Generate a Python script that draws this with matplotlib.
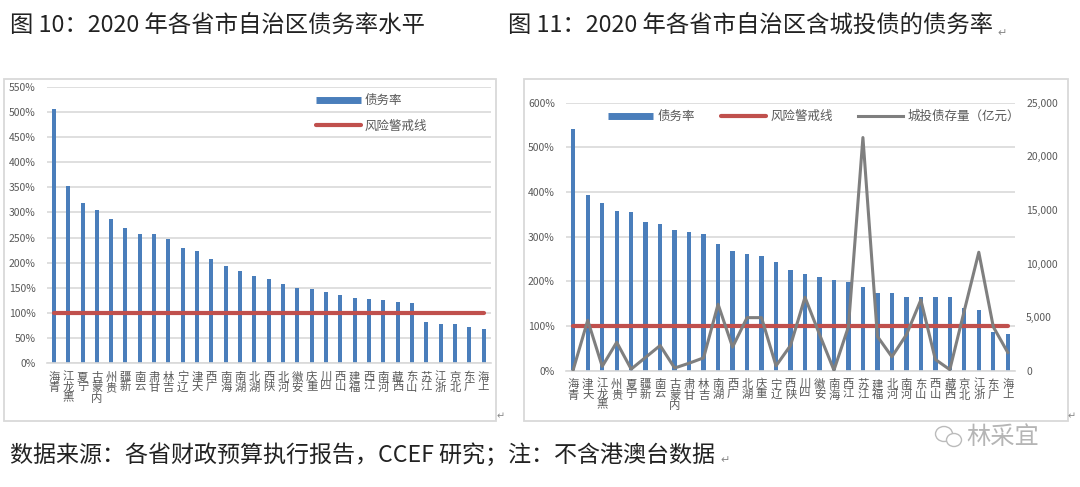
import matplotlib
matplotlib.use("Agg")
import matplotlib.pyplot as plt
from matplotlib.lines import Line2D
from matplotlib.patches import Rectangle, Ellipse
from matplotlib.ticker import FuncFormatter, MultipleLocator

plt.rcParams['font.family'] = ['Noto Sans CJK SC', 'DejaVu Sans']

# ---- data ----
left_provinces = ['青海', '黑龙江', '宁夏', '内蒙古', '贵州', '新疆', '云南', '甘肃', '吉林', '辽宁',
                  '天津', '广西', '海南', '湖南', '湖北', '陕西', '河北', '安徽', '重庆', '四川',
                  '山西', '福建', '江西', '河南', '西藏', '山东', '江苏', '浙江', '北京', '广东', '上海']
left_rates = [506, 353, 319, 304, 286, 270, 258, 257, 247, 229, 223, 207, 194, 184, 174, 168,
              158, 150, 148, 141, 135, 129, 127, 125, 121, 119, 83, 78, 78, 72, 68]

right_provinces = ['青海', '天津', '黑龙江', '贵州', '宁夏', '新疆', '云南', '内蒙古', '甘肃', '吉林',
                   '湖南', '广西', '湖北', '重庆', '辽宁', '陕西', '四川', '安徽', '海南', '江西',
                   '江苏', '福建', '河北', '河南', '山东', '山西', '西藏', '北京', '浙江', '广东', '上海']
right_rates = [540, 394, 376, 357, 355, 332, 328, 314, 310, 305, 284, 268, 261, 257, 243, 226,
               217, 210, 202, 199, 188, 175, 175, 166, 166, 166, 164, 140, 136, 87, 82]
lgfv_stock = [100, 4700, 400, 2650, 150, 1250, 2350, 250, 700, 1200, 6200, 2200, 4950, 4950, 450,
              2350, 6850, 3400, 50, 4100, 21750, 3200, 1300, 3350, 6600, 1050, 100, 5600, 11050, 4100, 1700]

risk_level = 100

title_left = "图 10：2020 年各省市自治区债务率水平"
title_right = "图 11：2020 年各省市自治区含城投债的债务率"
source_note = "数据来源：各省财政预算执行报告，CCEF 研究；注：不含港澳台数据"

BLUE = '#4A7EBB'
RED = '#C0504D'
GREY_LINE = '#7F7F7F'
GRID = '#D9D9D9'
TXT = '#595959'

W, H = 1080, 487
fig = plt.figure(figsize=(W / 100, H / 100), dpi=100)


def box(x0, y0, x1, y1):
    # pixel box (top-left origin) -> figure fraction [l, b, w, h]
    return [x0 / W, 1 - y1 / H, (x1 - x0) / W, (y1 - y0) / H]


def frame(x0, y0, x1, y1):
    l, b, w, h = box(x0, y0, x1, y1)
    fig.add_artist(Rectangle((l, b), w, h, transform=fig.transFigure, fill=False,
                             ec=GRID, lw=1.3))


def mark(x, y, size=8):
    # word paragraph marks seen in the screenshot
    fig.text(x / W, 1 - y / H, "↵", fontsize=size, color='#888888', va='center',
             family='DejaVu Sans')


def style_axes(ax, provinces):
    for s in ax.spines.values():
        s.set_visible(False)
    ax.spines['bottom'].set_visible(True)
    ax.spines['bottom'].set_color(GRID)
    ax.spines['bottom'].set_linewidth(1.2)
    ax.grid(axis='y', color=GRID, lw=1.2)
    ax.set_axisbelow(True)
    ax.set_xlim(-0.5, len(provinces) - 0.5)
    ax.set_xticks(range(len(provinces)))
    ax.set_xticklabels(["\n".join(reversed(p)) for p in provinces], linespacing=0.95,
                       fontsize=8.2, color=TXT)
    ax.tick_params(axis='both', length=0)
    ax.tick_params(axis='x', pad=6)
    ax.tick_params(axis='y', pad=8, labelsize=7.5, labelcolor=TXT)
    ax.yaxis.set_major_formatter(FuncFormatter(lambda v, p: f"{v:.0f}%"))


# ---- frames and titles ----
frame(4, 79, 496, 421)
frame(524, 79, 1068, 421)
fig.text(10 / W, 1 - 25 / H, title_left, fontsize=16.8, color='#222222', va='center')
fig.text(508 / W, 1 - 25 / H, title_right, fontsize=16.8, color='#222222', va='center')
mark(997, 33)
fig.text(10 / W, 1 - 455 / H, source_note, fontsize=16.6, color='#222222', va='center')
mark(720, 460)
mark(497, 416, 7)
mark(1068, 416, 7)

# watermark
fig.add_artist(Ellipse((944 / W, 1 - 434 / H), 17 / W, 15 / H, transform=fig.transFigure,
                       fill=False, ec='#BBBBBB', lw=1))
fig.add_artist(Ellipse((954 / W, 1 - 440 / H), 15 / W, 13 / H, transform=fig.transFigure,
                       fc='white', ec='#BBBBBB', lw=1))
fig.text(966 / W, 1 - 437 / H, "林采宜", fontsize=17.5, color='#B5B5B5', va='center')

# ---- left chart ----
axl = fig.add_axes(box(46.7, 86.7, 490.7, 363.3))
xl = range(len(left_provinces))
axl.bar(xl, left_rates, width=0.28, color=BLUE, zorder=2)
axl.plot(xl, [risk_level] * len(left_provinces), color=RED, lw=3, solid_capstyle='round',
         zorder=3)
axl.set_ylim(0, 550)
axl.yaxis.set_major_locator(MultipleLocator(50))
style_axes(axl, left_provinces)

hl = [Line2D([], [], color=BLUE, lw=5, solid_capstyle='butt'),
      Line2D([], [], color=RED, lw=3, solid_capstyle='round')]
axl.legend(hl, ['债务率', '风险警戒线'], loc='upper left',
           bbox_to_anchor=(316 / W, 1 - 94 / H), bbox_transform=fig.transFigure,
           frameon=False, fontsize=9, labelcolor=TXT, handlelength=3.6, handletextpad=0.3,
           labelspacing=1.0, borderpad=0, borderaxespad=0)

# ---- right chart ----
axr = fig.add_axes(box(566, 102.7, 1015, 370.7))
xr = range(len(right_provinces))
axr.bar(xr, right_rates, width=0.3, color=BLUE, zorder=2)
axr.plot(xr, [risk_level] * len(right_provinces), color=RED, lw=3, solid_capstyle='round',
         zorder=3)
axr.set_ylim(0, 600)
axr.yaxis.set_major_locator(MultipleLocator(100))
style_axes(axr, right_provinces)

axr2 = axr.twinx()
axr2.plot(xr, lgfv_stock, color=GREY_LINE, lw=2.2)
axr2.set_ylim(0, 25000)
axr2.yaxis.set_major_locator(MultipleLocator(5000))
axr2.yaxis.set_major_formatter(FuncFormatter(lambda v, p: f"{v:,.0f}"))
for s in axr2.spines.values():
    s.set_visible(False)
axr2.tick_params(axis='y', length=0, pad=8, labelsize=7.5, labelcolor=TXT)

hr = [Line2D([], [], color=BLUE, lw=5, solid_capstyle='butt'),
      Line2D([], [], color=RED, lw=3, solid_capstyle='round'),
      Line2D([], [], color=GREY_LINE, lw=2.2)]
axr2.legend(hr, ['债务率', '风险警戒线', '城投债存量（亿元）'], loc='upper left', ncol=3,
            bbox_to_anchor=(608 / W, 1 - 110 / H), bbox_transform=fig.transFigure,
            frameon=False, fontsize=9, labelcolor=TXT, handlelength=3.6, handletextpad=0.4,
            columnspacing=2.0, borderpad=0, borderaxespad=0)

fig.savefig("out.png", dpi=100)
